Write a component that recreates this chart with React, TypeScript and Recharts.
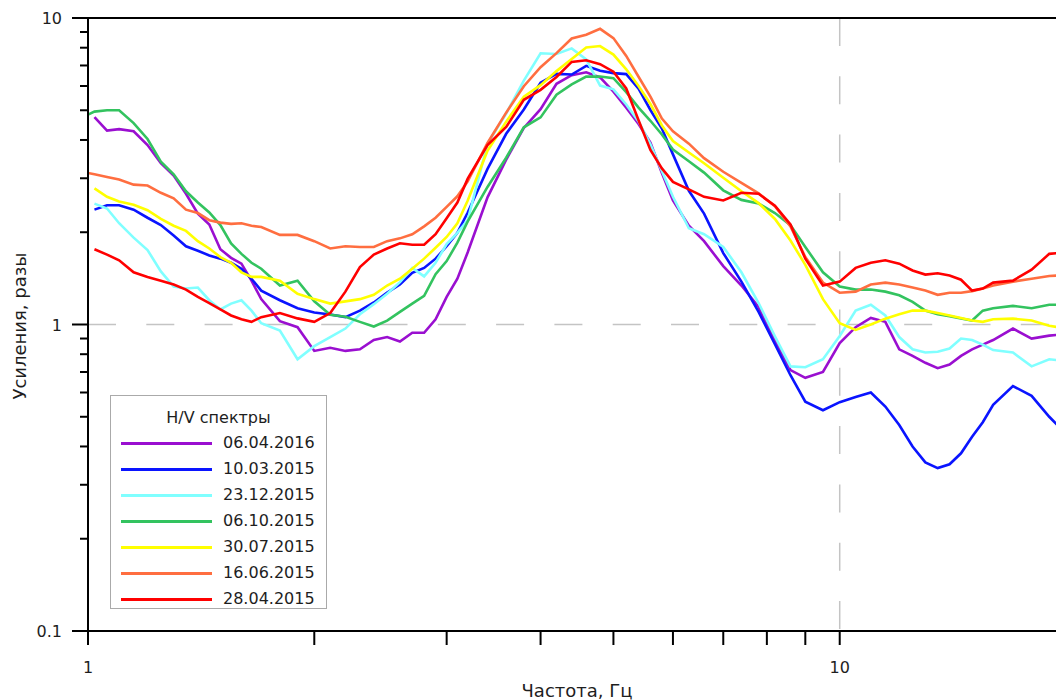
import React from 'react';
import { LineChart, Line, XAxis, YAxis, ReferenceLine, Legend, Label } from 'recharts';

// Frequencies, Hz (log axis)
const freq = [
  1.0, 1.02, 1.06, 1.1, 1.15, 1.2, 1.25, 1.3, 1.35, 1.4,
  1.45, 1.5, 1.55, 1.6, 1.65, 1.7, 1.8, 1.9, 2.0, 2.1,
  2.2, 2.3, 2.4, 2.5, 2.6, 2.7, 2.8, 2.9, 3.0, 3.1,
  3.2, 3.4, 3.6, 3.8, 4.0, 4.2, 4.4, 4.6, 4.8, 5.0,
  5.2, 5.4, 5.6, 5.8, 6.0, 6.3, 6.6, 7.0, 7.4, 7.8,
  8.2, 8.6, 9.0, 9.5, 10, 10.5, 11, 11.5, 12, 12.5,
  13, 13.5, 14, 14.5, 15, 15.5, 16, 17, 18, 19,
  20,
];

// H/V spectral ratios for each survey date
const hv_06_04_2016 = [
  null, 4.75, 4.29, 4.34, 4.27, 3.85, 3.36, 3.06, 2.67, 2.30,
  2.12, 1.76, 1.65, 1.58, 1.39, 1.21, 1.025, 0.98, 0.82, 0.84,
  0.82, 0.83, 0.89, 0.91, 0.88, 0.94, 0.94, 1.04, 1.23, 1.41,
  1.72, 2.60, 3.45, 4.38, 5.04, 6.10, 6.51, 6.65, 6.40, 5.75,
  5.10, 4.51, 3.92, 3.12, 2.54, 2.10, 1.87, 1.55, 1.34, 1.14,
  0.89, 0.71, 0.67, 0.70, 0.87, 0.98, 1.05, 1.02, 0.83, 0.79,
  0.75, 0.72, 0.74, 0.79, 0.83, 0.86, 0.89, 0.97, 0.90, 0.92,
  0.93,
];
const hv_10_03_2015 = [
  null, 2.37, 2.45, 2.45, 2.37, 2.23, 2.11, 1.95, 1.80, 1.74,
  1.68, 1.64, 1.59, 1.52, 1.41, 1.29, 1.20, 1.13, 1.095, 1.078,
  1.057, 1.11, 1.18, 1.27, 1.35, 1.475, 1.53, 1.64, 1.80, 1.99,
  2.32, 3.22, 4.19, 5.03, 6.15, 6.57, 6.54, 6.98, 6.73, 6.61,
  6.56, 5.88, 5.01, 4.36, 3.59, 2.73, 2.30, 1.71, 1.38, 1.10,
  0.862, 0.683, 0.56, 0.525, 0.558, 0.58, 0.60, 0.54, 0.47, 0.40,
  0.355, 0.34, 0.35, 0.38, 0.43, 0.48, 0.547, 0.63, 0.585, 0.50,
  0.44,
];
const hv_23_12_2015 = [
  null, 2.48, 2.39, 2.14, 1.92, 1.75, 1.49, 1.33, 1.31, 1.32,
  1.20, 1.12, 1.17, 1.20, 1.11, 1.01, 0.956, 0.77, 0.85, 0.91,
  0.97, 1.08, 1.165, 1.26, 1.375, 1.53, 1.435, 1.59, 1.83, 1.99,
  2.19, 3.89, 4.88, 6.25, 7.67, 7.63, 7.96, 7.33, 6.02, 5.85,
  5.22, 4.60, 3.87, 3.17, 2.61, 2.06, 1.97, 1.79, 1.48, 1.175,
  0.915, 0.73, 0.725, 0.77, 0.917, 1.11, 1.16, 1.07, 0.91, 0.83,
  0.81, 0.815, 0.835, 0.90, 0.89, 0.86, 0.825, 0.81, 0.73, 0.77,
  0.76,
];
const hv_06_10_2015 = [
  4.84, 4.95, 5.0, 5.0, 4.54, 4.03, 3.40, 3.09, 2.72, 2.50,
  2.32, 2.11, 1.84, 1.70, 1.59, 1.52, 1.34, 1.39, 1.19, 1.076,
  1.06, 1.02, 0.985, 1.03, 1.10, 1.17, 1.24, 1.46, 1.61, 1.85,
  2.17, 2.81, 3.50, 4.40, 4.74, 5.62, 6.07, 6.44, 6.44, 6.36,
  5.73, 5.10, 4.62, 4.17, 3.72, 3.41, 3.13, 2.74, 2.55, 2.48,
  2.31, 2.11, 1.79, 1.48, 1.33, 1.30, 1.30, 1.28, 1.245, 1.185,
  1.11, 1.08, 1.065, 1.046, 1.03, 1.11, 1.13, 1.15, 1.13, 1.16,
  1.16,
];
const hv_30_07_2015 = [
  null, 2.78, 2.61, 2.52, 2.46, 2.36, 2.21, 2.10, 2.02, 1.87,
  1.77, 1.66, 1.59, 1.48, 1.43, 1.43, 1.39, 1.26, 1.21, 1.17,
  1.19, 1.21, 1.25, 1.34, 1.41, 1.52, 1.64, 1.78, 1.93, 2.14,
  2.54, 3.69, 4.59, 5.54, 6.04, 6.71, 7.35, 8.01, 8.10, 7.60,
  6.80, 6.00, 5.24, 4.46, 3.97, 3.64, 3.36, 3.01, 2.72, 2.49,
  2.21, 1.88, 1.565, 1.21, 1.01, 0.96, 1.0, 1.045, 1.08, 1.11,
  1.11, 1.09, 1.07, 1.05, 1.03, 1.02, 1.04, 1.045, 1.03, 0.99,
  0.97,
];
const hv_16_06_2015 = [
  3.12, 3.09, 3.03, 2.97, 2.86, 2.84, 2.69, 2.58, 2.37, 2.31,
  2.19, 2.15, 2.13, 2.14, 2.10, 2.08, 1.96, 1.96, 1.87, 1.77,
  1.80, 1.79, 1.79, 1.87, 1.91, 1.97, 2.09, 2.23, 2.42, 2.62,
  2.93, 3.91, 4.91, 5.99, 6.91, 7.68, 8.57, 8.82, 9.22, 8.60,
  7.52, 6.43, 5.54, 4.70, 4.27, 3.89, 3.49, 3.15, 2.90, 2.68,
  2.43, 2.09, 1.66, 1.37, 1.27, 1.28, 1.35, 1.37, 1.35, 1.32,
  1.29, 1.25, 1.27, 1.27, 1.285, 1.31, 1.34, 1.38, 1.41, 1.44,
  1.45,
];
const hv_28_04_2015 = [
  null, 1.76, 1.69, 1.62, 1.48, 1.43, 1.39, 1.35, 1.30, 1.23,
  1.175, 1.12, 1.07, 1.04, 1.02, 1.057, 1.09, 1.047, 1.02, 1.09,
  1.28, 1.54, 1.69, 1.77, 1.84, 1.82, 1.82, 1.97, 2.22, 2.50,
  2.99, 3.85, 4.41, 5.41, 5.83, 6.42, 7.19, 7.28, 7.07, 6.68,
  5.89, 4.64, 3.71, 3.23, 2.92, 2.76, 2.61, 2.54, 2.69, 2.67,
  2.44, 2.12, 1.64, 1.34, 1.38, 1.53, 1.59, 1.62, 1.58, 1.50,
  1.455, 1.47, 1.445, 1.40, 1.29, 1.31, 1.37, 1.39, 1.51, 1.70,
  1.72,
];

const seriesNames = ['06.04.2016', '10.03.2015', '23.12.2015', '06.10.2015', '30.07.2015', '16.06.2015', '28.04.2015'];
const seriesValues = [hv_06_04_2016, hv_10_03_2015, hv_23_12_2015, hv_06_10_2015, hv_30_07_2015, hv_16_06_2015, hv_28_04_2015];
const seriesColors = ['#9a0fd0', '#0a14ff', '#80ffff', '#33c35f', '#ffff00', '#ff6e40', '#ff0000'];

const xTicks = [1, 2, 3, 4, 5, 6, 7, 8, 9, 10, 20];
const xTickLabels: Record<number, string> = { 1: '1', 10: '10' };
const yTicks = [0.1, 0.2, 0.3, 0.4, 0.5, 0.6, 0.7, 0.8, 0.9, 1, 2, 3, 4, 5, 6, 7, 8, 9, 10];
const yTickLabels: Record<number, string> = { 0.1: '0.1', 1: '1', 10: '10' };

const legendTitle = 'H/V спектры';
const xTitle = 'Частота, Гц';
const yTitle = 'Усиления, разы';

const data = freq.map((f, i) => {
  const row: Record<string, number | null> = { f };
  seriesValues.forEach((arr, k) => {
    row['s' + k] = arr[i];
  });
  return row;
});

const FONT = '"DejaVu Sans", sans-serif';
const TEXT = '#1e1e1e';

const YTick = (props: any) => {
  const { x, y, payload } = props;
  const v = payload.value;
  const label = yTickLabels[v];
  const major = label !== undefined;
  return (
    <g>
      <line x1={x - (major ? 16 : 8)} x2={x} y1={y} y2={y} stroke="#000" strokeWidth={2} />
      {major && (
        <text x={x - 26} y={y} dy={6} textAnchor="end" fontSize={16} fontFamily={FONT} fill={TEXT}>
          {label}
        </text>
      )}
    </g>
  );
};

const XTick = (props: any) => {
  const { x, y, payload } = props;
  const label = xTickLabels[payload.value];
  return (
    <g>
      <line x1={x} x2={x} y1={y} y2={y + 14} stroke="#000" strokeWidth={2} />
      {label && (
        <text x={x} y={y + 42} textAnchor="middle" fontSize={16} fontFamily={FONT} fill={TEXT}>
          {label}
        </text>
      )}
    </g>
  );
};

const LegendBox = () => (
  <div
    style={{
      position: 'relative',
      width: 217,
      height: 214,
      boxSizing: 'border-box',
      border: '1px solid #aaaaaa',
      background: '#fff',
      fontFamily: FONT,
      fontSize: 16,
      color: TEXT,
    }}
  >
    <div style={{ position: 'absolute', top: 12, left: 0, width: '100%', textAlign: 'center', lineHeight: '19px' }}>
      {legendTitle}
    </div>
    {seriesNames.map((name, i) => {
      const cy = 47 + i * 26;
      return (
        <React.Fragment key={name}>
          <div style={{ position: 'absolute', left: 10, top: cy - 1.5, width: 91, height: 3, background: seriesColors[i] }} />
          <div style={{ position: 'absolute', left: 112, top: cy - 10, lineHeight: '20px', whiteSpace: 'nowrap' }}>{name}</div>
        </React.Fragment>
      );
    })}
  </div>
);

export default function App() {
  return (
    <div style={{ position: 'absolute', left: 0, top: 0, width: 1056, height: 700, overflow: 'hidden', background: '#fff' }}>
      <LineChart width={1100} height={700} data={data} margin={{ top: 18, right: 34, left: 28, bottom: 29 }}>
        <XAxis
          dataKey="f"
          type="number"
          scale="log"
          domain={[1, 20]}
          allowDataOverflow
          ticks={xTicks}
          interval={0}
          tick={<XTick />}
          tickLine={false}
          tickSize={0}
          tickMargin={0}
          height={40}
          axisLine={{ stroke: '#000', strokeWidth: 2 }}
        >
          <Label
            content={() => (
              <text x={577} y={697} textAnchor="middle" fontSize={18} fontFamily={FONT} fill={TEXT}>
                {xTitle}
              </text>
            )}
          />
        </XAxis>
        <YAxis
          type="number"
          scale="log"
          domain={[0.1, 10]}
          allowDataOverflow
          ticks={yTicks}
          interval={0}
          tick={<YTick />}
          tickLine={false}
          tickSize={0}
          tickMargin={0}
          width={60}
          axisLine={{ stroke: '#000', strokeWidth: 2 }}
        >
          <Label
            content={() => (
              <text
                x={20}
                y={326}
                transform="rotate(-90 20 326)"
                textAnchor="middle"
                dy={6}
                fontSize={18}
                fontFamily={FONT}
                fill={TEXT}
              >
                {yTitle}
              </text>
            )}
          />
        </YAxis>
        <ReferenceLine
          segment={[{ x: 1, y: 1 }, { x: 20, y: 1 }]}
          stroke="#c4c4c4"
          strokeWidth={1.5}
          strokeDasharray="28 30.3"
        />
        <ReferenceLine
          segment={[{ x: 10, y: 10 }, { x: 10, y: 0.1 }]}
          stroke="#c4c4c4"
          strokeWidth={1.5}
          strokeDasharray="28 30.3"
        />
        <ReferenceLine segment={[{ x: 1, y: 10 }, { x: 20, y: 10 }]} stroke="#000" strokeWidth={2} />
        {seriesNames.map((name, k) => (
          <Line
            key={name}
            name={name}
            dataKey={'s' + k}
            type="linear"
            stroke={seriesColors[k]}
            strokeWidth={2.6}
            dot={false}
            activeDot={false}
            isAnimationActive={false}
          />
        ))}
        <Legend
          layout="horizontal"
          align="center"
          verticalAlign="middle"
          content={<LegendBox />}
          wrapperStyle={{ left: 110, top: 395, width: 217, height: 214 }}
        />
      </LineChart>
    </div>
  );
}
